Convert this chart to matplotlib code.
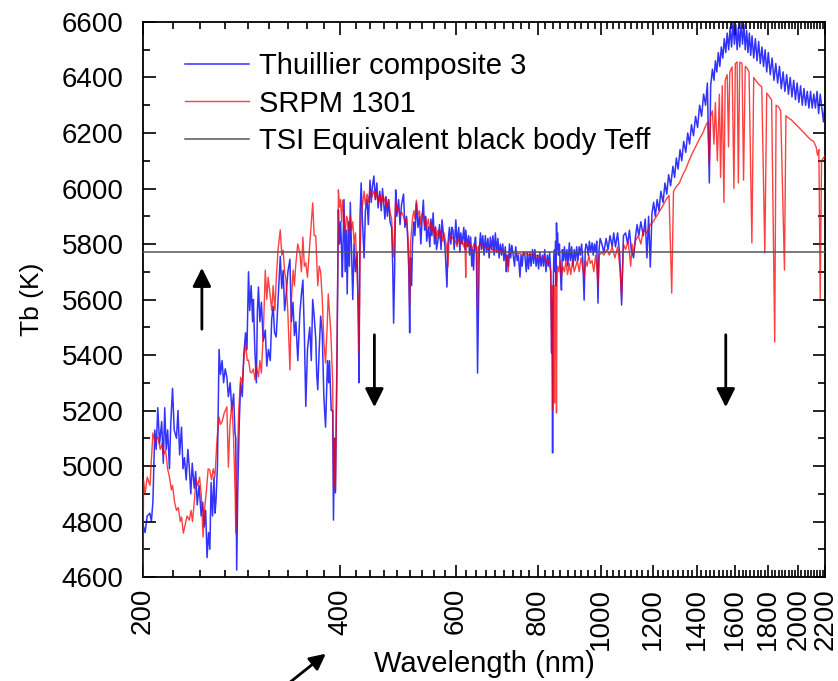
import numpy as np
import matplotlib
matplotlib.use('Agg')
import matplotlib.pyplot as plt
from matplotlib.ticker import FixedLocator, FixedFormatter, NullFormatter

# ── Data ──
# Thuillier composite 3: (wavelength nm, Tb K)
thuillier = [
    (200, 4790), (201.5, 4760), (203, 4820), (204.9, 4830), (206, 4800), (207.1, 4870),
    (208.5, 5130), (209.5, 5060), (210.7, 5210), (212, 5080), (213.6, 5160), (214.8, 5010),
    (215.9, 5210), (217, 5060), (218.1, 5130), (219.5, 4990), (220.5, 5150), (221.9, 5280),
    (223.2, 5130), (225, 5100), (226.2, 5200), (227.5, 5040), (229, 5140), (230.2, 4990),
    (231.4, 5030), (232.8, 4950), (234.2, 5060), (235.4, 4990), (236.6, 4900), (237.8, 5010),
    (239.5, 4920), (240.7, 4980), (242, 4860), (243.6, 4930), (245.4, 4820), (246.7, 4870),
    (248, 4780), (249.3, 4840), (250.5, 4670), (251.8, 4760), (253, 4700), (254.1, 4940),
    (255.4, 4820), (256.7, 4960), (257.6, 4830), (258.6, 4880), (259.8, 5000), (261.3, 5420),
    (262.6, 5330), (264.1, 5380), (265.5, 5300), (267, 5350), (268.6, 5320), (270, 5250),
    (271.7, 5300), (273.3, 5200), (275, 5260), (276.3, 5120), (277.1, 5100), (278, 4625),
    (279, 4900), (280.5, 5150), (281.9, 5300), (283.5, 5250), (285, 5400), (286.8, 5480),
    (288.2, 5420), (289.8, 5700), (291, 5560), (292.5, 5650), (294, 5520), (294.8, 5600),
    (296.3, 5420), (297.9, 5300), (299, 5560), (300.1, 5645), (301.6, 5520), (303.2, 5590),
    (305.2, 5450), (307.4, 5490), (309, 5360), (310.8, 5420), (312.8, 5380), (314.4, 5530),
    (316, 5575), (317.6, 5480), (319.4, 5465), (321.8, 5620), (324, 5755), (325.7, 5640),
    (327.3, 5705), (329, 5560), (330.6, 5610), (332.8, 5700), (335.2, 5745), (336.9, 5520),
    (338.8, 5590), (340.5, 5470), (342.3, 5520), (344.6, 5380), (347.1, 5550), (349, 5620),
    (350.8, 5670), (352.6, 5480), (354.4, 5215), (356.5, 5420), (359.4, 5500), (361.3, 5380),
    (363.1, 5600), (365, 5540), (367, 5460), (368.3, 5330), (369.6, 5275), (371.5, 5420),
    (373.4, 5540), (375.5, 5480), (377.6, 5250), (379.9, 5140), (382.5, 5380), (384, 5300),
    (385.2, 5380), (387.5, 5200), (389.5, 5200), (390.6, 4805), (392, 5100), (393.3, 4903),
    (395.5, 5400), (397.4, 5923), (399, 5800), (400.5, 5880), (402, 5770), (403, 5681),
    (405.3, 5960), (407, 5700), (408.5, 5850), (409.9, 5620), (411.5, 5880), (413, 5720),
    (414.4, 5950), (416, 5800), (418, 5600), (420, 5800), (422, 5700), (424.4, 5770),
    (426, 5550), (427.3, 5300), (428.8, 5900), (430.5, 6020), (432.5, 5880), (435, 5750),
    (437, 5920), (439.5, 5960), (441.5, 5870), (444.1, 6030), (446, 5950), (448, 6010),
    (450.2, 6045), (452.5, 5960), (454.9, 6020), (457, 5930), (459.6, 5990), (462, 5920),
    (464, 6000), (466, 5950), (468, 5890), (470, 5970), (472, 5900), (474.1, 5960),
    (476.5, 5880), (479.2, 5860), (481, 5720), (482.5, 5515), (484.2, 5700), (486, 5995),
    (488, 5900), (491, 5960), (493.5, 5870), (496, 5940), (499.6, 5980), (502, 5860),
    (504.9, 5900), (507, 5820), (509, 5700), (510.5, 5480), (512, 5750), (514, 5650),
    (515.5, 5800), (518, 5880), (520, 5830), (522.7, 5948), (525.5, 5860), (528.2, 5900),
    (531, 5800), (533, 5880), (535.6, 5958), (538, 5850), (540, 5900), (542, 5810),
    (545, 5862), (548, 5790), (550, 5890), (552, 5830), (554.4, 5912), (557, 5800),
    (559, 5860), (561, 5780), (564, 5815), (567, 5870), (570, 5780), (572, 5887),
    (575, 5830), (578, 5790), (580, 5720), (582, 5645), (584, 5800), (587, 5860),
    (590, 5800), (592, 5860), (594.3, 5850), (597, 5780), (600.4, 5887), (603, 5800),
    (606.6, 5860), (609, 5770), (610.9, 5840), (614, 5800), (617.4, 5860), (620, 5780),
    (621.7, 5850), (625, 5790), (628, 5830), (630, 5760), (632.5, 5825), (635, 5720),
    (637, 5780), (639, 5706), (641, 5800), (643.4, 5825), (645.5, 5760), (648, 5335),
    (652, 5780), (654.7, 5840), (657, 5780), (660, 5830), (663, 5760), (666, 5830),
    (669, 5770), (672, 5820), (675, 5750), (677.8, 5825), (681, 5780), (684, 5830),
    (687, 5760), (689.8, 5840), (693, 5770), (696, 5820), (699, 5750), (702, 5800),
    (705, 5760), (708, 5800), (711, 5740), (714.3, 5790), (717, 5700), (719, 5760),
    (721.8, 5720), (725, 5800), (728, 5750), (731, 5795), (734.5, 5760), (738, 5720),
    (741, 5790), (745, 5740), (748, 5760), (752.2, 5681), (755, 5760), (758, 5720),
    (761, 5770), (765.3, 5760), (769, 5700), (772, 5770), (775, 5710), (778.7, 5770),
    (782, 5720), (786, 5780), (789, 5730), (792.5, 5780), (796, 5720), (800, 5760),
    (803, 5710), (806.5, 5770), (810, 5720), (814, 5760), (817, 5720), (820.5, 5780),
    (824, 5700), (828, 5760), (831, 5720), (834.8, 5770), (838, 5700), (840.6, 5407),
    (842, 5600), (843.5, 5047), (845, 5600), (847, 5750), (849.3, 5780), (851, 5700),
    (852.5, 5810), (854, 5650), (855.2, 5876), (856.5, 5780), (858.1, 5840), (861, 5760),
    (864, 5800), (867, 5700), (870.2, 5634), (873, 5780), (876, 5740), (879.3, 5790),
    (883, 5740), (887, 5780), (890, 5720), (894.6, 5804), (898, 5740), (902, 5790),
    (906, 5720), (910.2, 5780), (914, 5740), (918, 5790), (922, 5740), (926.2, 5790),
    (930, 5760), (934, 5800), (938, 5740), (942.4, 5598), (946, 5780), (949, 5800),
    (952.4, 5790), (956, 5760), (960, 5810), (964, 5770), (969, 5804), (973, 5760),
    (977, 5800), (981, 5770), (985, 5810), (989.4, 5587), (993, 5780), (997, 5820),
    (1003, 5800), (1010, 5770), (1018, 5820), (1025, 5780), (1032, 5830), (1040, 5790),
    (1045.6, 5840), (1052, 5790), (1060, 5840), (1068, 5760), (1075, 5580), (1082, 5830),
    (1090, 5840), (1098, 5800), (1105, 5850), (1112, 5780), (1121, 5750), (1128, 5820),
    (1135, 5870), (1142, 5830), (1150, 5880), (1160, 5830), (1168, 5890), (1175, 5750),
    (1182, 5900), (1189, 5717), (1196, 5910), (1203, 5950), (1210, 5900), (1218, 5960),
    (1226, 5920), (1234, 5990), (1243.6, 5950), (1252, 6020), (1260, 5980), (1268, 6050),
    (1277, 6010), (1287.4, 6080), (1295, 6040), (1303, 6110), (1311, 6070), (1320, 6140),
    (1328, 6100), (1337, 6170), (1347, 6130), (1356, 6200), (1365, 6160), (1374, 6230),
    (1384, 6190), (1394, 6260), (1404, 6220), (1414, 6300), (1424, 6260), (1434, 6340),
    (1444, 6300), (1453, 6380), (1463, 6020), (1470, 6370), (1479, 6430), (1487, 6390),
    (1494.6, 6460), (1502, 6420), (1510, 6490), (1518, 6440), (1526, 6510), (1534, 6470),
    (1542, 6540), (1550, 6490), (1558, 6560), (1566, 6500), (1574, 6580), (1582, 6510),
    (1590, 6600), (1598, 6520), (1606, 6590), (1613, 6500), (1620, 6580), (1628, 6510),
    (1636, 6600), (1644, 6520), (1652, 6590), (1660, 6500), (1668, 6570), (1676, 6490),
    (1684, 6560), (1692, 6480), (1700, 6550), (1710, 6470), (1720, 6540), (1730, 6460),
    (1740, 6530), (1750, 6450), (1760, 6510), (1770, 6440), (1780, 6500), (1790, 6420),
    (1800, 6490), (1812, 6410), (1824, 6470), (1836, 6390), (1848, 6450), (1860, 6380),
    (1872, 6440), (1884, 6360), (1896, 6420), (1908, 6350), (1920, 6410), (1932, 6340),
    (1944, 6400), (1956, 6330), (1968, 6390), (1980, 6320), (1992, 6380), (2004, 6310),
    (2016, 6370), (2028, 6300), (2040, 6360), (2052, 6300), (2064, 6350), (2076, 6290),
    (2088, 6350), (2100, 6290), (2112, 6340), (2124, 6290), (2136, 6350), (2148, 6270),
    (2160, 6340), (2170, 6300), (2185, 6240), (2200, 6330),
]

# SRPM 1301: (wavelength nm, Tb K)
srpm = [
    (200, 4600), (200.4, 4950), (201.5, 4900), (203, 4960), (205, 4930), (207.1, 5119),
    (208.5, 5090), (210.7, 5105), (212.5, 5060), (213.6, 5080), (215, 5040), (216.5, 5058),
    (218.1, 4990), (219.5, 4960), (221, 4914), (221.9, 4930), (223.5, 4870), (225, 4840),
    (226.5, 4850), (228, 4800), (229, 4816), (230.5, 4758), (232, 4790), (233.5, 4820),
    (235.4, 4805), (236.8, 4840), (238, 4800), (239.5, 4870), (241, 4950), (242.5, 4930),
    (244, 4960), (245.4, 4900), (247, 4744), (248.5, 4850), (250, 4914), (251.5, 4990),
    (253, 4985), (254.5, 4950), (256, 4990), (257.5, 4960), (259.5, 5100), (261.3, 5177),
    (262.6, 5150), (264.1, 5160), (266, 5190), (268.6, 5213), (270, 4996), (271.5, 5150),
    (273.3, 5227), (275, 5100), (276.5, 4900), (277.1, 4758), (278.5, 5000), (280, 5200),
    (281.9, 5320), (283.5, 5300), (285, 5380), (286.8, 5443), (288.5, 5380), (289.8, 5382),
    (291.5, 5340), (293, 5335), (294.8, 5350), (296.5, 5310), (297.9, 5360), (299.5, 5330),
    (300.1, 5321), (301.6, 5380), (303.2, 5335), (305.5, 5500), (307.4, 5706), (309, 5600),
    (310.5, 5680), (312.8, 5609), (314.5, 5560), (316, 5650), (318, 5560), (319.4, 5670),
    (321.5, 5780), (324, 5851), (325.7, 5760), (327.3, 5778), (329, 5700), (330.6, 5670),
    (332.8, 5550), (335.2, 5346), (337, 5600), (339, 5706), (340.5, 5650), (342, 5720),
    (344.5, 5800), (347.1, 5768), (349, 5700), (350.8, 5825), (352.6, 5720), (354.4, 5732),
    (356.5, 5680), (359.4, 5800), (361.3, 5880), (363.1, 5948), (365, 5830), (367, 5830),
    (369.6, 5650), (371.5, 5720), (373.4, 5700), (375.5, 5600), (377.6, 5450), (379.9, 5371),
    (382, 5500), (383.5, 5620), (385.2, 5551), (387, 5480), (389.5, 5300), (390.8, 4925),
    (392, 5100), (393.3, 4914), (395.5, 5400), (397.4, 5995), (399, 5933), (400.5, 5960),
    (402, 5880), (403.5, 5958), (405.3, 5900), (407, 5840), (409, 5900), (410.5, 5887),
    (412.8, 5840), (414.4, 5900), (416, 5850), (418, 5880), (420, 5800), (422, 5840),
    (424.4, 5700), (426, 5600), (427.3, 5407), (428.8, 5750), (430.5, 5900), (433, 5950),
    (435, 5990), (437, 5940), (439.5, 5980), (442, 5950), (444.1, 5995), (447, 5970),
    (450.2, 5990), (453, 5960), (455, 5990), (457, 5950), (459.6, 5980), (462, 5940),
    (464, 5975), (466, 5950), (469, 5970), (471, 5930), (474.1, 5960), (477, 5910),
    (479.2, 5890), (481, 5800), (482.5, 5753), (484.2, 5850), (486, 5960), (488, 5920),
    (491, 5930), (493.5, 5900), (496, 5915), (499.6, 5900), (502, 5880), (504.9, 5890),
    (507, 5840), (509, 5750), (510.5, 5573), (512, 5800), (514, 5850), (515.5, 5890),
    (518, 5920), (520, 5890), (522.7, 5958), (525.5, 5900), (528.2, 5920), (531, 5870),
    (533, 5910), (535.6, 5900), (538, 5870), (540, 5895), (542, 5860), (545, 5890),
    (548, 5850), (550, 5880), (552, 5840), (554.4, 5870), (557, 5830), (559, 5862),
    (561, 5820), (564, 5850), (567, 5820), (570, 5850), (573, 5810), (576, 5840),
    (580, 5800), (582, 5780), (584, 5717), (586, 5810), (590, 5830), (594.3, 5820),
    (598, 5810), (600.4, 5810), (603, 5790), (606.6, 5820), (610.9, 5800), (614, 5810),
    (617.4, 5790), (620, 5810), (621.7, 5680), (623, 5800), (626, 5810), (630, 5790),
    (632.5, 5800), (636, 5780), (640, 5800), (643.4, 5780), (646, 5790), (648, 5562),
    (650, 5790), (654.7, 5800), (660, 5785), (666, 5790), (672, 5780), (677.8, 5790),
    (685, 5775), (690, 5780), (697, 5770), (702, 5780), (708, 5770), (714, 5775),
    (721.8, 5700), (725, 5770), (734.5, 5770), (745, 5765), (752.2, 5765), (760, 5760),
    (765.3, 5768), (775, 5760), (785, 5762), (792.5, 5755), (800, 5760), (806.5, 5753),
    (815, 5750), (820.5, 5755), (826, 5730), (830, 5740), (834.8, 5720), (838, 5700),
    (840.6, 5418), (842, 5650), (843.5, 5202), (845, 5500), (847, 5650), (849.3, 5227),
    (851, 5600), (853, 5700), (855.2, 5191), (856.5, 5650), (858.1, 5720), (862, 5700),
    (866, 5740), (870.2, 5680), (874, 5720), (879.3, 5700), (884, 5740), (889, 5690),
    (894.6, 5730), (899, 5690), (905, 5740), (910.2, 5700), (915, 5720), (920, 5740),
    (926.2, 5700), (932, 5750), (937, 5720), (942.4, 5680), (947, 5740), (952.4, 5720),
    (958, 5760), (963, 5730), (969, 5740), (975, 5700), (981, 5760), (985, 5720),
    (989.4, 5650), (994, 5760), (1003, 5770), (1010, 5760), (1020, 5780), (1030, 5760),
    (1040, 5790), (1050, 5750), (1060, 5790), (1070, 5700), (1075, 5609), (1082, 5800),
    (1090, 5780), (1100, 5810), (1110, 5720), (1115, 5800), (1121, 5760), (1128, 5810),
    (1140, 5830), (1150, 5800), (1160, 5850), (1175, 5840), (1189, 5870), (1201, 5880),
    (1215, 5900), (1230, 5920), (1243.6, 5940), (1256.6, 5960), (1270, 5975), (1282, 5623),
    (1290, 5990), (1301, 6005), (1317, 6020), (1333, 6050), (1347, 6070), (1362, 6100),
    (1380, 6130), (1394, 6150), (1414, 6180), (1430, 6200), (1443.6, 6225), (1455, 6240),
    (1463, 6080), (1470, 6260), (1479, 6280), (1487, 6160), (1494.6, 6310), (1505, 6100),
    (1515.6, 6340), (1522, 6040), (1531, 6370), (1540, 5950), (1547, 6390), (1558, 6410),
    (1565, 6150), (1572, 6420), (1585, 6438), (1595, 6000), (1603, 6450), (1613, 6456),
    (1620, 6020), (1628, 6455), (1641, 6452), (1650, 6030), (1660, 6440), (1670, 6434),
    (1682, 6420), (1699, 5804), (1710, 6400), (1729, 6384), (1741, 6375), (1759, 6366),
    (1778, 5768), (1790, 6344), (1802, 6335), (1821, 6319), (1841, 5447), (1850, 6300),
    (1866, 6294), (1880, 6280), (1905, 5706), (1915, 6262), (1930, 6255), (1952, 6247),
    (1975, 6235), (2000, 6222), (2042, 6200), (2070, 6185), (2092, 6175), (2110, 6170),
    (2129, 6150), (2140, 6120), (2150, 6140), (2160, 5600), (2170, 6100), (2185, 6110),
    (2200, 6120),
]

teff = 5770  # TSI equivalent black body temperature

# axis ticks
x_major = [200, 400, 600, 800, 1000, 1200, 1400, 1600, 1800, 2000, 2200]
x_labels = [str(v) for v in x_major]
y_major = np.arange(4600, 6601, 200)
y_minor = np.arange(4700, 6600, 200)

# arrows (wavelength, tail Tb, tip Tb)
arrows = [(246, 5483, 5724), (451, 5483, 5202), (1550, 5483, 5202)]

plt.rcParams['font.family'] = ['Liberation Sans', 'DejaVu Sans']

fig = plt.figure(figsize=(8.38, 6.81), dpi=100)
ax = fig.add_axes([0.1706, 0.1527, 0.8144, 0.815])

tw, tt = zip(*thuillier)
sw, st = zip(*srpm)
ax.plot(tw, tt, color='#0000ff', lw=1.1, alpha=0.8, label='Thuillier composite 3', zorder=2)
ax.plot(sw, st, color='#ff0000', lw=1.0, alpha=0.75, label='SRPM 1301', zorder=3)
ax.axhline(teff, color='#555555', lw=1.1, label='TSI Equivalent black body Teff', zorder=4)

ax.set_xscale('log')
ax.set_xlim(200, 2200)
ax.set_ylim(4600, 6600)

# Origin-style ticks: 8 minor ticks between majors
x_minor = []
for a, b in zip(x_major[:-1], x_major[1:]):
    x_minor += [a + k * (b - a) / 9 for k in range(1, 9)]
ax.xaxis.set_major_locator(FixedLocator(x_major))
ax.xaxis.set_major_formatter(FixedFormatter(x_labels))
ax.xaxis.set_minor_locator(FixedLocator(x_minor))
ax.xaxis.set_minor_formatter(NullFormatter())
ax.set_yticks(y_major)
ax.set_yticks(y_minor, minor=True)

ax.tick_params(which='both', direction='in', top=True, right=True, width=1.2)
ax.tick_params(which='major', length=9, labelsize=20)
ax.tick_params(which='minor', length=5)
ax.tick_params(axis='x', which='major', labelrotation=90, pad=8)
ax.tick_params(axis='y', which='major', pad=14)
for s in ax.spines.values():
    s.set_linewidth(1.3)

ax.set_xlabel('Wavelength (nm)', fontsize=21)
ax.xaxis.set_label_coords(0.5, -0.131)
ax.set_ylabel('Tb (K)', fontsize=19)
ax.yaxis.set_label_coords(-0.145, 0.5)

for wl, t0, t1 in arrows:
    ax.annotate('', xy=(wl, t1), xytext=(wl, t0),
                arrowprops=dict(arrowstyle='-|>', color='black', lw=2, mutation_scale=28))
fig.add_artist(matplotlib.patches.FancyArrowPatch(
    (0.3377, -0.01), (0.3914, 0.0426), transform=fig.transFigure,
    arrowstyle='-|>', color='black', lw=2, mutation_scale=24))

leg = ax.legend(loc='upper left', bbox_to_anchor=(0.0612, 0.946), frameon=False,
                borderpad=0, borderaxespad=0, fontsize=21, handlelength=2.2,
                handletextpad=0.35, labelspacing=0.33)

fig.savefig('out.png', dpi=100)
